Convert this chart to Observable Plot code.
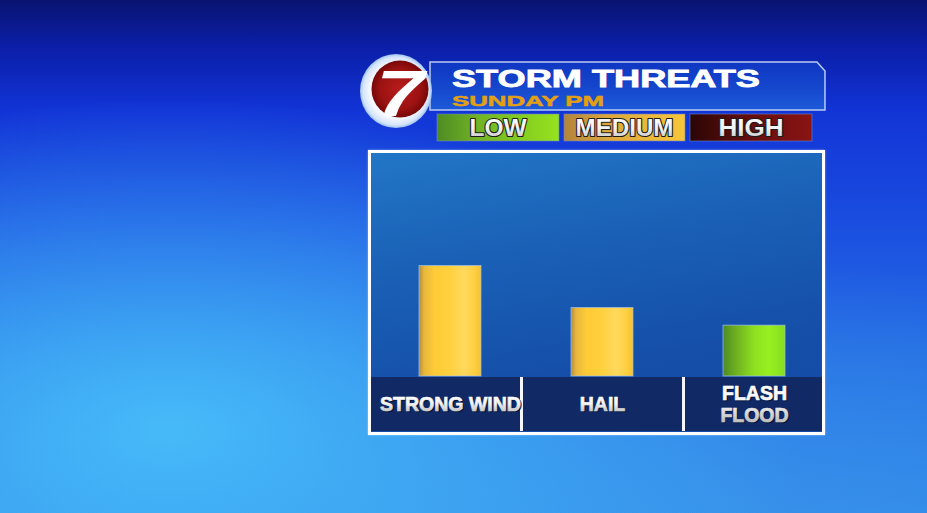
<!DOCTYPE html>
<html>
<head>
<meta charset="utf-8">
<script src="https://cdn.jsdelivr.net/npm/d3@7"></script>
<script src="https://cdn.jsdelivr.net/npm/@observablehq/plot@0.6"></script>
<style>
  html, body { margin: 0; padding: 0; }
  body {
    width: 927px; height: 513px; overflow: hidden; position: relative;
    font-family: "Liberation Sans", Arial, sans-serif;
    background:
      radial-gradient(ellipse 640px 330px at 170px 430px, rgba(72,190,250,0.95), rgba(72,190,250,0) 100%),
      radial-gradient(ellipse 520px 260px at 760px 520px, rgba(60,150,235,0.6), rgba(60,150,235,0) 100%),
      linear-gradient(to bottom, #0a1470 0px, #0b1ea6 45px, #1234d6 110px, #1a4de0 220px, #2670e4 360px, #3088e8 513px);
  }
  #panel {
    position: absolute; left: 368px; top: 150px; width: 457px; height: 285px;
    box-sizing: border-box; border: 3px solid #ffffff;
    background: linear-gradient(170deg, #2276c6 0%, #1a60b6 35%, #154fa9 70%, #134aa6 100%);
    box-shadow: 0 0 2px rgba(255,255,255,0.5);
  }
  #strip {
    position: absolute; left: 371px; top: 377px; width: 451px; height: 54px;
    background: #112a66;
  }
  .divider { position: absolute; top: 377px; width: 3px; height: 54px; background: #f4f6fa; }
  #chart { position: absolute; left: 369px; top: 151px; }
  #chart svg { overflow: visible; }
  #header { position: absolute; left: 0; top: 0; }
</style>
</head>
<body>
<div id="panel"></div>
<div id="strip"></div>
<div class="divider" style="left:520px"></div>
<div class="divider" style="left:682px"></div>
<div id="chart"></div>
<svg id="header" width="927" height="150"></svg>
<script>
// ---- data ----
const title = "STORM THREATS";
const subtitle = "SUNDAY PM";
const hazards = ["STRONG WIND", "HAIL", "FLASH FLOOD"];
const hazardLabels = ["STRONG WIND", "HAIL", "FLASH\nFLOOD"];
const threatValues = [50, 31, 23];          // bar height, 0–100 scale
const threatLevels = ["MEDIUM", "MEDIUM", "LOW"];
const legendLevels = ["LOW", "MEDIUM", "HIGH"];

const data = hazards.map((h, i) => ({
  hazard: h, label: hazardLabels[i], value: threatValues[i], level: threatLevels[i]
}));

// ---- gradient definitions used by the Plot marks ----
function defsMark() {
  const defs = d3.create("svg:defs");
  const grad = (id, stops, vertical) => {
    const g = defs.append("linearGradient").attr("id", id)
      .attr("x1", 0).attr("y1", 0).attr("x2", vertical ? 0 : 1).attr("y2", vertical ? 1 : 0);
    stops.forEach(([o, c]) => g.append("stop").attr("offset", o).attr("stop-color", c));
  };
  grad("gMEDIUM", [[0, "#b48a3c"], [0.08, "#e6b63e"], [0.25, "#ffcb36"], [0.5, "#ffd03e"], [0.72, "#ffd95e"], [0.9, "#ffcf42"], [1, "#f2c232"]]);
  grad("gLOW", [[0, "#4c8a26"], [0.15, "#66a622"], [0.5, "#8ee020"], [0.75, "#98f020"], [1, "#84dc20"]]);
  grad("gLabel", [[0, "#ffffff"], [0.5, "#f4f4f4"], [1, "#b4b4b4"]], true);
  return defs.node();
}

const chart = Plot.plot({
  width: 461,
  height: 285,
  marginLeft: 5, marginRight: 0, marginTop: 4, marginBottom: 60,
  style: { background: "transparent", overflow: "visible" },
  x: { domain: hazards, padding: 0, axis: null },
  y: { domain: [0, 100], axis: null },
  marks: [
    defsMark,
    ...["MEDIUM", "LOW"].map(lv => Plot.barY(data, {
      filter: d => d.level === lv,
      x: "hazard", y: "value",
      fill: `url(#g${lv})`,
      stroke: "#9fc2e6", strokeOpacity: 0.7, strokeWidth: 1,
      insetLeft: 45, insetRight: 45
    })),
    Plot.text(data, {
      x: "hazard", text: "label", frameAnchor: "bottom",
      dy: 28.5, dx: 1.2, lineAnchor: "middle", lineHeight: 1.13,
      fill: "#061233", fillOpacity: 0.85, stroke: "#061233", strokeOpacity: 0.85, strokeWidth: 0.7,
      fontSize: 19.5, fontWeight: "bold", fontFamily: "Liberation Sans, Arial, sans-serif"
    }),
    Plot.text(data, {
      x: "hazard", text: "label", frameAnchor: "bottom",
      dy: 27, lineAnchor: "middle", lineHeight: 1.13,
      fill: "url(#gLabel)", stroke: "url(#gLabel)", strokeWidth: 0.7,
      fontSize: 19.5, fontWeight: "bold", fontFamily: "Liberation Sans, Arial, sans-serif"
    })
  ]
});
document.getElementById("chart").appendChild(chart);

// ---- header: logo, title banner, legend ----
const hs = d3.select("#header");
const hd = hs.append("defs");
function hgrad(id, stops, vertical, radial) {
  const g = radial ? hd.append("radialGradient").attr("id", id)
                   : hd.append("linearGradient").attr("id", id)
                       .attr("x1", 0).attr("y1", 0).attr("x2", vertical ? 0 : 1).attr("y2", vertical ? 1 : 0);
  stops.forEach(([o, c]) => g.append("stop").attr("offset", o).attr("stop-color", c));
}
hgrad("banner", [[0, "#0f36c2"], [0.5, "#1446cc"], [1, "#1e5ada"]], true);
hgrad("legLOW", [[0, "#4e8c24"], [0.35, "#72b424"], [1, "#96e21e"]]);
hgrad("legMEDIUM", [[0, "#b2843a"], [0.35, "#dca63c"], [1, "#f8c63a"]]);
hgrad("legHIGH", [[0, "#2a0606"], [0.4, "#5e0c0c"], [1, "#8a1414"]]);
hgrad("legText", [[0, "#ffffff"], [0.55, "#f2f2f2"], [1, "#bdbdbd"]], true);
hgrad("ring", [[0, "#ffffff"], [0.75, "#f2f6ff"], [0.92, "#d4e4fa"], [1, "#9cc0f0"]], false, true);
hgrad("red", [[0, "#b81c1c"], [0.7, "#9c1212"], [1, "#780808"]], false, true);

hs.append("path")
  .attr("d", "M430,62 L817,62 L825,71 L825,110 L430,110 Z")
  .attr("fill", "url(#banner)")
  .attr("stroke", "#b8ccf4").attr("stroke-width", 1.5);

hs.append("text").text(title)
  .attr("x", 452).attr("y", 86.5)
  .attr("textLength", 308).attr("lengthAdjust", "spacingAndGlyphs")
  .attr("font-size", 24).attr("font-weight", "bold").attr("fill", "#ffffff")
  .attr("stroke", "#ffffff").attr("stroke-width", 0.8);
hs.append("text").text(subtitle)
  .attr("x", 452).attr("y", 106)
  .attr("textLength", 152).attr("lengthAdjust", "spacingAndGlyphs")
  .attr("font-size", 15.5).attr("font-weight", "bold").attr("fill", "#e3a012")
  .attr("stroke", "#e3a012").attr("stroke-width", 0.5);

// logo
hs.append("ellipse").attr("cx", 396).attr("cy", 91).attr("rx", 36).attr("ry", 37)
  .attr("fill", "url(#ring)");
hs.append("circle").attr("cx", 400).attr("cy", 89).attr("r", 28.5).attr("fill", "url(#red)");
hs.append("text").text("7")
  .attr("x", 376).attr("y", 116)
  .attr("textLength", 48).attr("lengthAdjust", "spacingAndGlyphs")
  .attr("font-size", 64).attr("font-weight", "bold").attr("font-style", "italic")
  .attr("fill", "#ffffff");

// legend boxes
const legX = [437, 564, 690];
const legW = [122, 121, 122];
const legLen = [57, 98, 65];
legendLevels.forEach((lv, i) => {
  hs.append("rect").attr("x", legX[i]).attr("y", 114).attr("width", legW[i]).attr("height", 27)
    .attr("fill", `url(#leg${lv})`).attr("stroke", "#6c86c8").attr("stroke-width", 1).attr("stroke-opacity", 0.6);
  hs.append("text").text(lv)
    .attr("x", legX[i] + legW[i] / 2).attr("y", 135.5).attr("text-anchor", "middle")
    .attr("textLength", legLen[i]).attr("lengthAdjust", "spacingAndGlyphs")
    .attr("font-size", 23.5).attr("font-weight", "bold")
    .attr("fill", "url(#legText)").attr("stroke", "#1c1c1c").attr("stroke-width", 2.2)
    .attr("paint-order", "stroke").attr("stroke-linejoin", "round");
});
</script>
</body>
</html>
